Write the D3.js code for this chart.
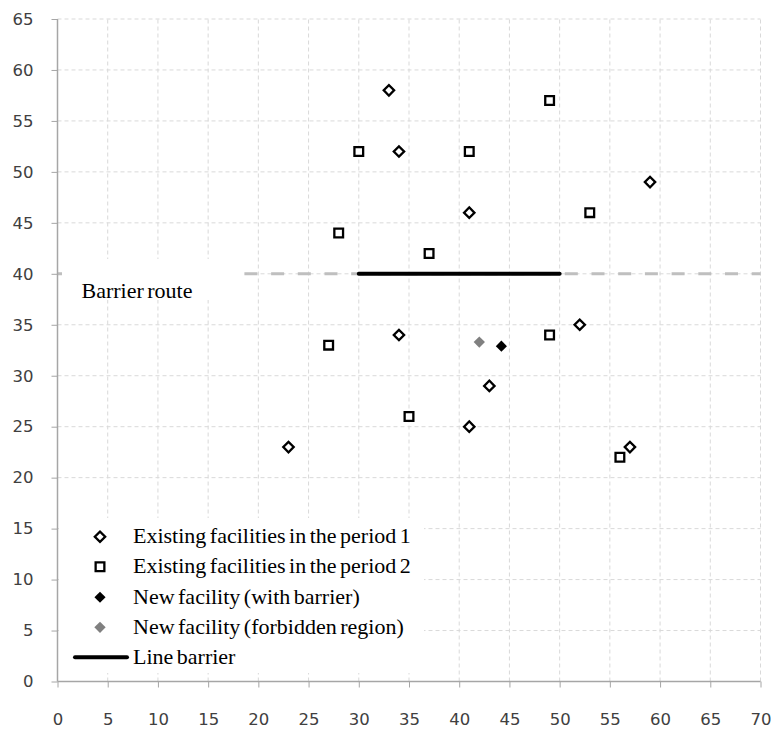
<!DOCTYPE html>
<html><head><meta charset="utf-8">
<script src="https://cdn.jsdelivr.net/npm/d3@7"></script>
<style>body{margin:0;background:#fff}</style>
</head><body>
<svg id="chart" width="771" height="729"></svg>
<script>
const period1X = [33, 34, 41, 59, 34, 52, 43, 41, 23, 57];
const period1Y = [58, 52, 46, 49, 34, 35, 29, 25, 23, 23];
const period2X = [49, 30, 41, 28, 53, 37, 27, 49, 35, 56];
const period2Y = [57, 52, 52, 44, 46, 42, 33, 34, 26, 22];
const newBarrierX = [44.2];
const newBarrierY = [32.9];
const newForbiddenX = [42];
const newForbiddenY = [33.3];
const barrierLineX = [30, 50];
const barrierLineY = [40, 40];
const routeX = [0, 70];
const routeY = [40, 40];
const xTicks = [0,5,10,15,20,25,30,35,40,45,50,55,60,65,70];
const yTicks = [0,5,10,15,20,25,30,35,40,45,50,55,60,65];
const legendLabels = ["Existing facilities in the period 1","Existing facilities in the period 2","New facility (with barrier)","New facility (forbidden region)","Line barrier"];
const routeLabel = "Barrier route";

const svg = d3.select("#chart");
const x = d3.scaleLinear().domain([0,70]).range([57.5,760.5]);
const y = d3.scaleLinear().domain([0,65]).range([681.5,19]);

// grid
const g = svg.append("g");
g.selectAll(".vg").data(xTicks.filter(d=>d>0)).join("line")
  .attr("x1",d=>x(d)).attr("x2",d=>x(d)).attr("y1",y(0)).attr("y2",y(65))
  .attr("stroke","#d9d9d9").attr("stroke-width",1).attr("stroke-dasharray","4,3");
g.selectAll(".hg").data(yTicks.filter(d=>d>0)).join("line")
  .attr("x1",x(0)).attr("x2",x(70)).attr("y1",d=>y(d)).attr("y2",d=>y(d))
  .attr("stroke","#d9d9d9").attr("stroke-width",1).attr("stroke-dasharray","4,3");

const line = d3.line().x(d=>x(d[0])).y(d=>y(d[1]));
// route
svg.append("path").datum(routeX.map((v,i)=>[v,routeY[i]])).attr("d",line)
  .attr("stroke","#bfbfbf").attr("stroke-width",3).attr("fill","none")
  .attr("stroke-dasharray","13,13.7");
// route label box
svg.append("rect").attr("x",62).attr("y",259).attr("width",182).attr("height",41).attr("fill","#fff");
svg.append("text").attr("x",81.5).attr("y",298).text(routeLabel)
  .attr("font-family","'Liberation Serif','Times New Roman',serif").attr("font-size",22).attr("fill","#000")
  .attr("word-spacing","-2");
// barrier
svg.append("path").datum(barrierLineX.map((v,i)=>[v,barrierLineY[i]])).attr("d",line)
  .attr("stroke","#000").attr("stroke-width",4).attr("fill","none").attr("stroke-linecap","round");

// axes
const axisColor = "#a6a6a6";
const xAxis = svg.append("g").attr("transform",`translate(0,${y(0)})`)
  .call(d3.axisBottom(x).tickValues(xTicks).tickSize(6).tickPadding(26));
const yAxis = svg.append("g").attr("transform",`translate(${x(0)},0)`)
  .call(d3.axisLeft(y).tickValues(yTicks).tickSize(6).tickPadding(18));
[xAxis,yAxis].forEach(a=>{
  a.select(".domain").attr("stroke",axisColor).attr("stroke-width",1.5);
  a.selectAll(".tick line").attr("stroke",axisColor);
  a.selectAll(".tick text").attr("font-family","'DejaVu Sans',Verdana,sans-serif").attr("font-size",16.5).attr("fill","#404040");
});
yAxis.select(".domain").attr("d",`M0,${y(65)}V${y(0)}`);
xAxis.select(".domain").attr("d",`M0,0H${x(70)-x(0)}`).attr("transform",`translate(${x(0)},0)`);

// points
const diamond = d3.symbol().type(d3.symbolSquare);
function drawPts(xs, ys, size, rot, fill, stroke, sw){
  svg.append("g").selectAll("path").data(xs.map((v,i)=>[v,ys[i]])).join("path")
    .attr("d",diamond.size(size)())
    .attr("transform",d=>`translate(${x(d[0])},${y(d[1])}) rotate(${rot})`)
    .attr("fill",fill).attr("stroke",stroke).attr("stroke-width",sw);
}
drawPts(period1X, period1Y, 54, 45, "#fff", "#000", 2.3);
drawPts(period2X, period2Y, 76, 0, "#fff", "#000", 2.3);
drawPts(newForbiddenX, newForbiddenY, 64, 45, "#808080", "none", 0);
drawPts(newBarrierX, newBarrierY, 62, 45, "#000", "none", 0);

// legend
svg.append("rect").attr("x",59).attr("y",518).attr("width",365).attr("height",155).attr("fill","#fff");
const legY = [536.7, 566.7, 597.3, 627.3, 657.3];
const lg = svg.append("g");
const symSpecs = [[54,45,"#fff","#000",2.3],[76,0,"#fff","#000",2.3],[62,45,"#000","none",0],[64,45,"#808080","none",0]];
symSpecs.forEach((s,i)=>{
  lg.append("path").attr("d",d3.symbol().type(d3.symbolSquare).size(s[0])())
    .attr("transform",`translate(100,${legY[i]}) rotate(${s[1]})`)
    .attr("fill",s[2]).attr("stroke",s[3]).attr("stroke-width",s[4]);
});
lg.append("line").attr("x1",75).attr("x2",127).attr("y1",legY[4]).attr("y2",legY[4])
  .attr("stroke","#000").attr("stroke-width",4).attr("stroke-linecap","round");
lg.selectAll("text").data(legendLabels).join("text")
  .attr("x",133).attr("y",(d,i)=>legY[i]+6.6).text(d=>d)
  .attr("font-family","'Liberation Serif','Times New Roman',serif").attr("font-size",22).attr("fill","#000")
  .attr("word-spacing","-2");
</script>
</body></html>
